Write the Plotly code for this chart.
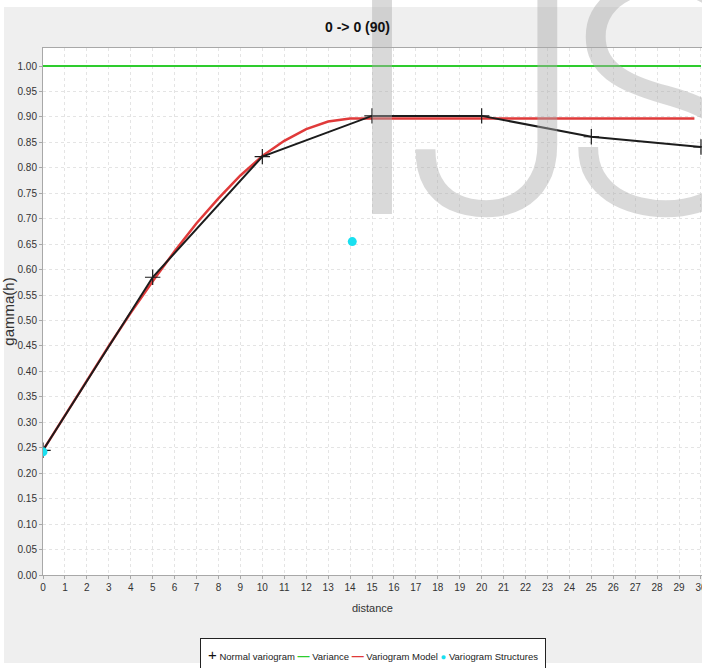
import plotly.graph_objects as go

# ---- data ----
lag = [0, 5, 10, 15, 20, 25, 30]
normal_variogram = [0.245, 0.585, 0.822, 0.902, 0.902, 0.861, 0.841]

variance_x = [0, 30]
variance_y = [1.0, 1.0]

model_x = [0, 1, 2, 3, 4, 5, 6, 7, 8, 9, 10, 11, 12, 13, 14, 15, 16, 17, 18, 19,
           20, 21, 22, 23, 24, 25, 26, 27, 28, 29, 29.7]
model_y = [0.245, 0.314, 0.383, 0.450, 0.515, 0.577, 0.636, 0.691, 0.740, 0.785,
           0.823, 0.853, 0.876, 0.891, 0.897, 0.897, 0.897, 0.897, 0.897, 0.897,
           0.897, 0.897, 0.897, 0.897, 0.897, 0.897, 0.897, 0.897, 0.897, 0.897, 0.897]

structures_x = [0, 14.1]
structures_y = [0.242, 0.655]

x_ticks = list(range(0, 31))
y_ticks = [0.00, 0.05, 0.10, 0.15, 0.20, 0.25, 0.30, 0.35, 0.40, 0.45, 0.50,
           0.55, 0.60, 0.65, 0.70, 0.75, 0.80, 0.85, 0.90, 0.95, 1.00]

FONT = "Liberation Sans, Arial, sans-serif"

C_BLACK = "#1c1c1c"
C_GREEN = "#2ecc2e"
C_RED = "#e03a3a"
C_CYAN = "#19e0f0"

W, H = 702, 668
L, R, T, B = 43, 0, 48, 93
PW, PH = W - L - R, H - T - B

def px_x(px):
    return (px - L) / PW

def px_y(py):
    return (H - B - py) / PH

fig = go.Figure()

fig.add_trace(go.Scatter(x=variance_x, y=variance_y, mode="lines",
                         line=dict(color=C_GREEN, width=2), name="Variance"))
fig.add_trace(go.Scatter(x=model_x, y=model_y, mode="lines",
                         line=dict(color=C_RED, width=2.5), name="Variogram Model"))
fig.add_trace(go.Scatter(x=lag, y=normal_variogram, mode="lines+markers",
                         line=dict(color=C_BLACK, width=2),
                         marker=dict(symbol="cross-thin", size=11,
                                     line=dict(color=C_BLACK, width=1.2)),
                         name="Normal variogram"))
fig.add_trace(go.Scatter(x=structures_x, y=structures_y, mode="markers",
                         marker=dict(symbol="circle", size=9, color=C_CYAN),
                         name="Variogram Structures"))

axis_common = dict(showline=True, linecolor="#a8a8a8", linewidth=1, mirror=True,
                   ticks="outside", ticklen=3, tickcolor="#a8a8a8",
                   showgrid=True, gridcolor="#e4e4e4", griddash="dot",
                   zeroline=False, ticklabeloverflow="allow",
                   tickfont=dict(family=FONT, size=10, color="#333"))

fig.update_xaxes(range=[0, PW / 21.933], tickvals=x_ticks,
                 ticktext=[str(v) for v in x_ticks],
                 title=dict(text="distance", font=dict(family=FONT, size=11, color="#333"),
                            standoff=12),
                 **axis_common)
fig.update_yaxes(range=[0, PH / 509.0], tickvals=y_ticks,
                 ticktext=["%.2f" % v for v in y_ticks],
                 title=dict(text="gamma(h)", font=dict(family=FONT, size=15, color="#333"),
                            standoff=2),
                 **axis_common)

shapes = [
    dict(type="rect", xref="paper", yref="paper", x0=px_x(0), x1=px_x(4),
         y0=px_y(H), y1=px_y(0), fillcolor="white", line=dict(width=0), layer="below"),
    dict(type="rect", xref="paper", yref="paper", x0=px_x(0), x1=px_x(W),
         y0=px_y(7), y1=px_y(0), fillcolor="white", line=dict(width=0), layer="below"),
    dict(type="rect", xref="paper", yref="paper", x0=px_x(0), x1=px_x(W),
         y0=px_y(H), y1=px_y(663), fillcolor="white", line=dict(width=0), layer="below"),
]

wm_color = "rgba(170,170,170,0.45)"
wm_font = dict(family="Roboto, Liberation Sans, sans-serif", size=330, weight=300,
               color=wm_color)
annotations = [
    dict(text="I", xref="paper", yref="paper", x=px_x(382), y=px_y(102),
         xanchor="center", yanchor="middle", showarrow=False, font=wm_font),
    dict(text="J", xref="paper", yref="paper", x=px_x(495), y=px_y(102),
         xanchor="center", yanchor="middle", showarrow=False, font=wm_font),
    dict(text="S", xref="paper", yref="paper", x=px_x(662), y=px_y(102),
         xanchor="center", yanchor="middle", showarrow=False, font=wm_font),
    # title drawn above the watermark
    dict(text="<b>0 -> 0 (90)</b>", xref="paper", yref="paper", x=px_x(357), y=px_y(27),
         xanchor="center", yanchor="middle", showarrow=False,
         font=dict(family=FONT, size=14, color="#111")),
    # legend box
    dict(text=("<span style='font-size:15px;color:#111'>+</span> Normal variogram "
               "<b><span style='font-size:12px;color:%s'>—</span></b> Variance "
               "<b><span style='font-size:12px;color:%s'>—</span></b> Variogram Model "
               "<span style='color:%s'>●</span> Variogram Structures")
              % (C_GREEN, C_RED, C_CYAN),
         xref="paper", yref="paper", x=px_x(200), y=px_y(638),
         xanchor="left", yanchor="top", showarrow=False, align="left",
         bgcolor="white", bordercolor="#222", borderwidth=1, borderpad=7,
         font=dict(family=FONT, size=9.5, color="#222")),
]

fig.update_layout(
    width=W, height=H,
    margin=dict(l=L, r=R, t=T, b=B, autoexpand=False),
    paper_bgcolor="#efefef", plot_bgcolor="white",
    showlegend=False,
    shapes=shapes,
    annotations=annotations,
)

fig.write_html("out.html")
